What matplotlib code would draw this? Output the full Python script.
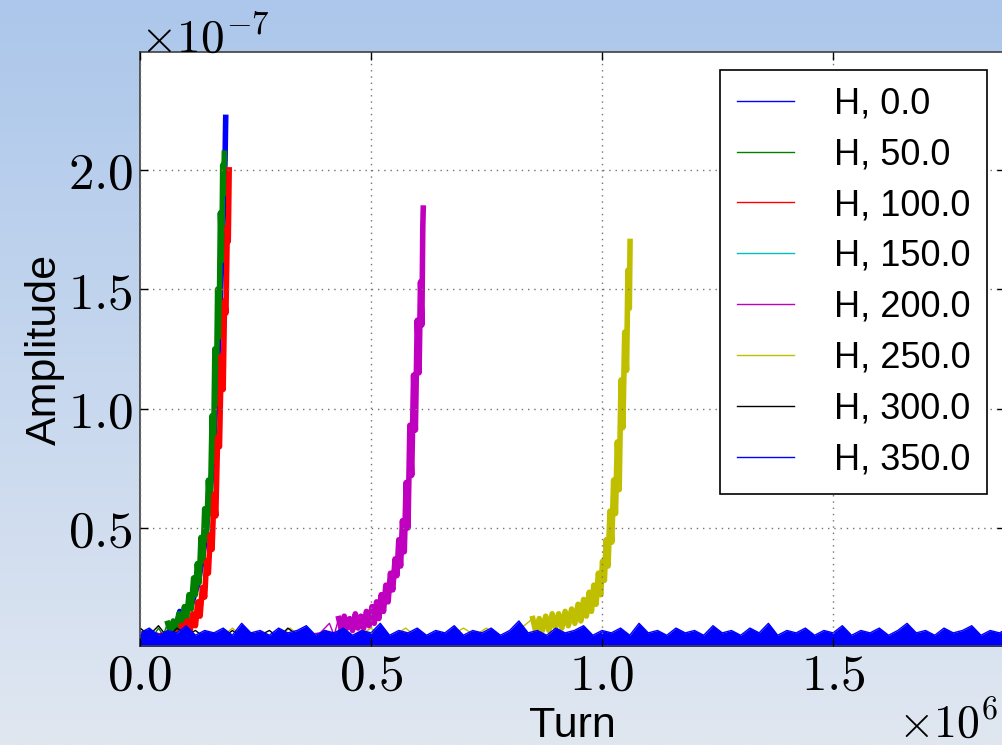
import matplotlib
matplotlib.use("Agg")
import matplotlib.pyplot as plt
import numpy as np
from matplotlib.ticker import FixedLocator, FuncFormatter

# ---------------- data (turn in units of 1e6, amplitude in units of 1e-7) ----------------
labels = ["H, 0.0", "H, 50.0", "H, 100.0", "H, 150.0", "H, 200.0", "H, 250.0", "H, 300.0", "H, 350.0"]
colors = ["b", "g", "r", "c", "m", "y", "k", "b"]

# H, 0.0
base_t_0 = [0.000, 0.012, 0.024, 0.036, 0.048, 0.060, 0.070]
base_a_0 = [0.05, 0.07, 0.04, 0.06, 0.05, 0.07, 0.09]
grow_t_0 = [0.070, 0.078, 0.086, 0.094, 0.102, 0.110, 0.118, 0.126, 0.134, 0.142,
            0.149, 0.155, 0.160, 0.165, 0.170, 0.174, 0.178, 0.181, 0.184, 0.1855]
grow_a_0 = [0.09, 0.08, 0.15, 0.10, 0.16, 0.17, 0.22, 0.27, 0.36, 0.46,
            0.60, 0.72, 0.88, 1.06, 1.28, 1.47, 1.68, 1.86, 2.04, 2.22]

# H, 50.0
base_t_50 = [0.000, 0.010, 0.020, 0.030, 0.040, 0.050, 0.060]
base_a_50 = [0.04, 0.06, 0.04, 0.05, 0.08, 0.05, 0.10]
grow_t_50 = [0.060, 0.066, 0.072, 0.078, 0.084, 0.090, 0.096, 0.101, 0.106, 0.111,
             0.116, 0.120, 0.124, 0.128, 0.132, 0.136, 0.140, 0.144, 0.148, 0.152,
             0.156, 0.159, 0.162, 0.165, 0.168, 0.171, 0.174, 0.177, 0.179, 0.181, 0.1825]
grow_a_50 = [0.10, 0.06, 0.11, 0.07, 0.14, 0.08, 0.17, 0.12, 0.22, 0.16,
             0.29, 0.22, 0.35, 0.27, 0.46, 0.36, 0.58, 0.45, 0.70, 0.56,
             0.97, 0.78, 1.25, 1.02, 1.50, 1.30, 1.82, 1.62, 2.02, 1.90, 2.07]

# H, 100.0
base_t_100 = [0.000, 0.015, 0.030, 0.045, 0.060, 0.075, 0.090]
base_a_100 = [0.04, 0.05, 0.04, 0.06, 0.04, 0.06, 0.09]
grow_t_100 = [0.090, 0.096, 0.102, 0.108, 0.114, 0.120, 0.125, 0.130, 0.135, 0.140,
              0.144, 0.148, 0.152, 0.156, 0.160, 0.164, 0.168, 0.172, 0.176, 0.180,
              0.183, 0.186, 0.189, 0.191, 0.193]
grow_a_100 = [0.09, 0.05, 0.11, 0.06, 0.14, 0.09, 0.19, 0.13, 0.25, 0.21,
              0.36, 0.31, 0.47, 0.41, 0.64, 0.55, 0.88, 0.84, 1.22, 1.08,
              1.45, 1.40, 1.76, 1.70, 2.00]

# H, 150.0 (stays in the noise floor, hidden)
base_t_150 = [0.00, 0.05, 0.10, 0.15, 0.20]
base_a_150 = [0.03, 0.04, 0.02, 0.04, 0.03]

# H, 200.0
base_t_200 = [0.00, 0.05, 0.10, 0.15, 0.20, 0.25, 0.30, 0.35, 0.39, 0.41, 0.42, 0.430]
base_a_200 = [0.04, 0.05, 0.04, 0.05, 0.04, 0.05, 0.04, 0.05, 0.06, 0.10, 0.05, 0.12]
grow_t_200 = [0.430, 0.436, 0.442, 0.448, 0.454, 0.460, 0.466, 0.472, 0.478, 0.484,
              0.490, 0.496, 0.502, 0.507, 0.512, 0.517, 0.522, 0.527, 0.532, 0.537,
              0.542, 0.547, 0.552, 0.556, 0.560, 0.564, 0.568, 0.572, 0.576, 0.580,
              0.584, 0.588, 0.592, 0.596, 0.600, 0.604, 0.607, 0.610, 0.612, 0.613]
grow_a_200 = [0.12, 0.07, 0.13, 0.08, 0.12, 0.07, 0.14, 0.08, 0.13, 0.08,
              0.15, 0.09, 0.17, 0.10, 0.19, 0.12, 0.22, 0.15, 0.26, 0.19,
              0.31, 0.24, 0.37, 0.30, 0.45, 0.34, 0.53, 0.40, 0.69, 0.50,
              0.93, 0.72, 1.14, 0.91, 1.37, 1.15, 1.53, 1.35, 1.76, 1.84]

# H, 250.0
base_t_250 = [0.000, 0.025, 0.050, 0.075, 0.100, 0.125, 0.150, 0.175, 0.200, 0.225,
              0.250, 0.275, 0.300, 0.325, 0.350, 0.375, 0.400, 0.425, 0.450, 0.475,
              0.500, 0.525, 0.550, 0.575, 0.600, 0.625, 0.650, 0.675, 0.700, 0.725,
              0.750, 0.775, 0.800, 0.825, 0.850]
base_a_250 = [0.08, 0.04, 0.05, 0.04, 0.05, 0.04, 0.05, 0.04, 0.08, 0.04,
              0.05, 0.04, 0.05, 0.08, 0.04, 0.05, 0.04, 0.05, 0.04, 0.05,
              0.08, 0.04, 0.05, 0.08, 0.04, 0.05, 0.04, 0.05, 0.08, 0.05,
              0.08, 0.04, 0.05, 0.08, 0.12]
grow_t_250 = [0.850, 0.857, 0.864, 0.871, 0.878, 0.885, 0.892, 0.899, 0.906, 0.913,
              0.920, 0.927, 0.934, 0.941, 0.948, 0.954, 0.960, 0.966, 0.972, 0.977,
              0.982, 0.987, 0.992, 0.997, 1.001, 1.005, 1.009, 1.013, 1.017, 1.021,
              1.025, 1.029, 1.033, 1.037, 1.041, 1.045, 1.049, 1.053, 1.056, 1.059, 1.0606]
grow_a_250 = [0.12, 0.06, 0.12, 0.07, 0.13, 0.07, 0.14, 0.08, 0.14, 0.08,
              0.15, 0.09, 0.16, 0.10, 0.18, 0.11, 0.20, 0.13, 0.23, 0.15,
              0.26, 0.18, 0.31, 0.22, 0.36, 0.28, 0.45, 0.34, 0.57, 0.44,
              0.70, 0.56, 0.86, 0.66, 1.12, 0.92, 1.32, 1.16, 1.58, 1.42, 1.70]

# H, 300.0
base_t_300 = [0.00, 0.02, 0.04, 0.06, 0.08, 0.10, 0.12, 0.14, 0.16, 0.18,
              0.20, 0.22, 0.24, 0.26, 0.28, 0.30, 0.32, 0.34, 0.36, 0.38,
              0.40, 0.42, 0.44, 0.46, 0.48, 0.50]
base_a_300 = [0.08, 0.05, 0.09, 0.04, 0.08, 0.05, 0.07, 0.04, 0.06, 0.04,
              0.07, 0.04, 0.06, 0.05, 0.07, 0.04, 0.08, 0.05, 0.08, 0.04,
              0.07, 0.05, 0.08, 0.04, 0.07, 0.05]

# H, 350.0 (noise floor over the whole run)
base_t_350 = [0.00, 0.02, 0.04, 0.06, 0.08, 0.10, 0.12, 0.14, 0.16, 0.18,
              0.20, 0.22, 0.24, 0.26, 0.28, 0.30, 0.32, 0.34, 0.36, 0.38,
              0.40, 0.42, 0.44, 0.46, 0.48, 0.50, 0.52, 0.54, 0.56, 0.58,
              0.60, 0.62, 0.64, 0.66, 0.68, 0.70, 0.72, 0.74, 0.76, 0.78,
              0.80, 0.82, 0.84, 0.86, 0.88, 0.90, 0.92, 0.94, 0.96, 0.98,
              1.00, 1.02, 1.04, 1.06, 1.08, 1.10, 1.12, 1.14, 1.16, 1.18,
              1.20, 1.22, 1.24, 1.26, 1.28, 1.30, 1.32, 1.34, 1.36, 1.38,
              1.40, 1.42, 1.44, 1.46, 1.48, 1.50, 1.52, 1.54, 1.56, 1.58,
              1.60, 1.62, 1.64, 1.66, 1.68, 1.70, 1.72, 1.74, 1.76, 1.78,
              1.80, 1.82, 1.84, 1.86, 1.88]
base_a_350 = [0.06, 0.08, 0.05, 0.07, 0.06, 0.09, 0.05, 0.07, 0.06, 0.08,
              0.05, 0.10, 0.06, 0.07, 0.05, 0.08, 0.06, 0.07, 0.09, 0.05,
              0.07, 0.06, 0.08, 0.05, 0.07, 0.06, 0.10, 0.05, 0.07, 0.06,
              0.08, 0.05, 0.07, 0.06, 0.09, 0.05, 0.07, 0.06, 0.08, 0.05,
              0.07, 0.11, 0.06, 0.07, 0.05, 0.08, 0.06, 0.07, 0.09, 0.05,
              0.07, 0.06, 0.08, 0.05, 0.10, 0.06, 0.07, 0.05, 0.08, 0.06,
              0.07, 0.05, 0.09, 0.06, 0.07, 0.05, 0.08, 0.06, 0.10, 0.05,
              0.07, 0.06, 0.08, 0.05, 0.07, 0.06, 0.09, 0.05, 0.07, 0.06,
              0.08, 0.05, 0.07, 0.10, 0.06, 0.07, 0.05, 0.08, 0.06, 0.07,
              0.09, 0.05, 0.07, 0.06, 0.08]

x_ticks = [0.0, 0.5, 1.0, 1.5]
y_ticks = [0.5, 1.0, 1.5, 2.0]

# ---------------- styling ----------------
plt.rcParams["mathtext.fontset"] = "cm"
plt.rcParams["font.family"] = ["Liberation Sans", "DejaVu Sans"]

W, H = 1003, 745
fig = plt.figure(figsize=(W / 100, H / 100), dpi=100)

# gradient background
bg = fig.add_axes([0, 0, 1, 1], zorder=-10)
bg.axis("off")
top = np.array([172, 199, 235]) / 255.0
bot = np.array([224, 231, 241]) / 255.0
f = np.linspace(0, 1, 256)[:, None]
grad = (top[None, :] * (1 - f) + bot[None, :] * f)[:, None, :]
bg.imshow(grad, aspect="auto", extent=[0, 1, 0, 1], origin="upper")
bg.set_xlim(0, 1)
bg.set_ylim(0, 1)

ax = fig.add_axes([140 / W, 1 - 646 / H, (1005 - 140) / W, (646 - 52) / H])
ax.set_facecolor("white")

series = [
    (base_t_0, base_a_0, grow_t_0, grow_a_0),
    (base_t_50, base_a_50, grow_t_50, grow_a_50),
    (base_t_100, base_a_100, grow_t_100, grow_a_100),
    (base_t_150, base_a_150, None, None),
    (base_t_200, base_a_200, grow_t_200, grow_a_200),
    (base_t_250, base_a_250, grow_t_250, grow_a_250),
    (base_t_300, base_a_300, None, None),
    (base_t_350, base_a_350, None, None),
]

handles = []
for i, (bt, ba, gt, ga) in enumerate(series):
    c = colors[i]
    if i == 7:
        ax.fill_between(bt, 0, ba, color=c, lw=0, zorder=2)
    ln, = ax.plot(bt, ba, color=c, lw=1.0, label=labels[i], zorder=2)
    handles.append(ln)
    if gt is not None:
        ax.plot(gt, ga, color=c, lw=4.0, zorder=2, solid_joinstyle="round")

ax.set_xlim(0, 1.872)
ax.set_ylim(0.005, 2.494)

ax.xaxis.set_major_locator(FixedLocator(x_ticks))
ax.yaxis.set_major_locator(FixedLocator(y_ticks))
fmt = FuncFormatter(lambda v, p: r"$%.1f$" % v)
ax.xaxis.set_major_formatter(fmt)
ax.yaxis.set_major_formatter(fmt)
ax.tick_params(axis="both", which="major", direction="in", top=True, right=True,
               length=6, width=1.0, color="k", labelsize=37)
ax.tick_params(axis="x", pad=4)
ax.tick_params(axis="y", pad=5)

ax.grid(True, color="0.45", linestyle=(0, (1, 3.5)), lw=1.0)
ax.set_axisbelow(False)
for s in ax.spines.values():
    s.set_color("0.25")
    s.set_linewidth(1.2)

ax.set_xlabel("Turn", fontsize=31, labelpad=4)
ax.set_ylabel("Amplitude", fontsize=31, labelpad=2)

fig.text(140 / W, 1 - 52.5 / H, r"$\times10^{-7}$", fontsize=34, ha="left", va="baseline")
fig.text(998 / W, 8 / H, r"$\times10^{6}$", fontsize=33, ha="right", va="baseline")

leg = ax.legend(handles=handles, loc="upper right", fontsize=26, frameon=True,
                fancybox=False, framealpha=1.0, edgecolor="k",
                handlelength=1.6, handletextpad=1.1, labelspacing=0.44,
                borderpad=0.45, borderaxespad=0.5)
leg.get_frame().set_linewidth(1.2)
leg.set_zorder(5)

fig.savefig("out.png", dpi=100)
